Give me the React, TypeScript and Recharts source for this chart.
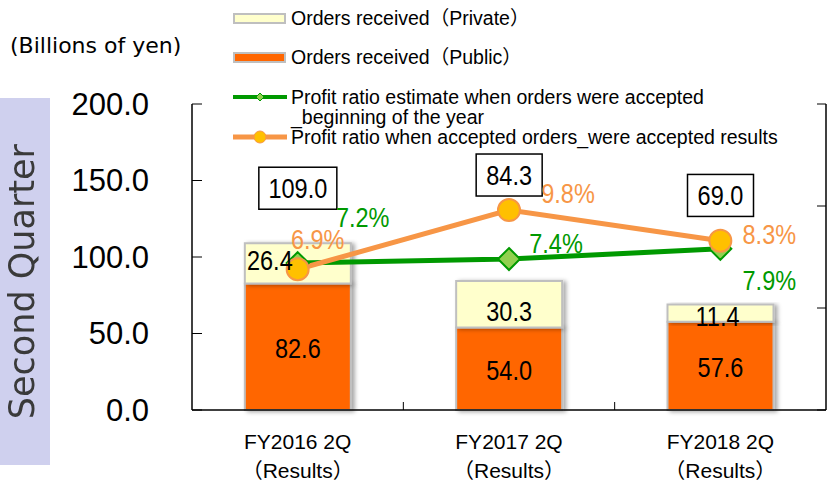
import {
  Bar,
  ComposedChart,
  LabelList,
  Line,
  XAxis,
  YAxis,
} from "recharts";

const categories = ["FY2016 2Q", "FY2017 2Q", "FY2018 2Q"];
const publicOrders = [82.6, 54.0, 57.6];
const privateOrders = [26.4, 30.3, 11.4];
const totalOrders = [109.0, 84.3, 69.0];
const estimateRatio = [7.2, 7.4, 7.9];
const resultRatio = [6.9, 9.8, 8.3];
const leftTicks = [0, 50, 100, 150, 200];
const rightTicks = [0, 5, 10, 15];

const chartData = categories.map((name, i) => ({
  name,
  publicOrders: publicOrders[i],
  privateOrders: privateOrders[i],
  estimateRatio: estimateRatio[i],
  resultRatio: resultRatio[i],
}));

// hand-placed label nudges, as in the original slide
const totalLift = [55, 106, 109];
const publicShift = [[0, 1], [0, 2], [0, 1]];
const privateShift = [[-28, -3], [0, 7], [-3, 3]];
const estimateShift = [[65, -46], [47, -16], [49, 31]];
const resultShift = [[20, -30], [59, -17], [49, -6]];

const GREEN = "#009900";
const ORANGE = "#f79646";
const AXIS_FONT = "'Liberation Sans', Arial, sans-serif";

// narrow-looking label text (the slide used a condensed face)
function NarrowText({ x, y, color, children, size = 28 }: any) {
  return (
    <text
      transform={`translate(${x},${y}) scale(0.84,1)`}
      x={0}
      y={0}
      textAnchor="middle"
      dominantBaseline="central"
      fontSize={size}
      fontFamily={AXIS_FONT}
      fill={color}
    >
      {children}
    </text>
  );
}

function CategoryTick(props: any) {
  const { x, y, payload, index } = props;
  // inner tick mark on the boundary between categories
  const half = Number(payload?.offset);
  const edge = index > 0 && Number.isFinite(half) && half > 0 ? payload.coordinate - half : null;
  return (
    <g>
      {edge != null && <line x1={edge} y1={y} x2={edge} y2={y - 8} stroke="#000" strokeWidth={1} />}
      <text x={x} y={y + 39} textAnchor="middle" fontSize={21} fontFamily={AXIS_FONT} fill="#000">
        {payload.value}
      </text>
      <text
        x={x}
        y={y + 68}
        textAnchor="middle"
        fontSize={21}
        fontFamily={`${AXIS_FONT}, 'Noto Sans CJK JP'`}
        fill="#000"
      >
        （Results）
      </text>
    </g>
  );
}

function LeftTick(props: any) {
  const { x, y, payload } = props;
  return (
    <g>
      <line x1={x} y1={y} x2={x + 10} y2={y} stroke="#000" strokeWidth={1} />
      <text
        x={x - 43}
        y={y}
        textAnchor="end"
        dominantBaseline="central"
        fontSize={31}
        fontFamily={AXIS_FONT}
        fill="#000"
      >
        {Number(payload.value).toFixed(1)}
      </text>
    </g>
  );
}

function RightTick(props: any) {
  const { x, y } = props;
  return <line x1={x} y1={y} x2={x - 9} y2={y} stroke="#000" strokeWidth={1} />;
}

function TotalBox(props: any) {
  const { x, y, width, index } = props;
  const text = totalOrders[index].toFixed(1);
  const w = text.length * 12 + 18;
  const h = 42;
  const cx = x + width / 2;
  const cy = y - totalLift[index];
  return (
    <g>
      <rect x={cx - w / 2} y={cy - h / 2} width={w} height={h} fill="#fff" stroke="#000" strokeWidth={1.5} />
      <NarrowText x={cx} y={cy} color="#000">
        {text}
      </NarrowText>
    </g>
  );
}

function makeBarLabel(shift: number[][]) {
  return (props: any) => {
    const { x, y, width, height, index, value } = props;
    const [dx, dy] = shift[index];
    return (
      <NarrowText x={x + width / 2 + dx} y={y + height / 2 + dy} color="#000">
        {Number(value).toFixed(1)}
      </NarrowText>
    );
  };
}

function makeRatioLabel(shift: number[][], color: string) {
  return (props: any) => {
    const { x, y, index, value } = props;
    const [dx, dy] = shift[index];
    return (
      <NarrowText x={x + dx} y={y + dy} color={color}>
        {`${Number(value).toFixed(1)}%`}
      </NarrowText>
    );
  };
}

function Diamond(props: any) {
  const { cx, cy } = props;
  if (cx == null || cy == null) return null;
  return (
    <path
      d={`M${cx},${cy - 11} L${cx + 11},${cy} L${cx},${cy + 11} L${cx - 11},${cy} Z`}
      fill="#92d050"
      stroke={GREEN}
      strokeWidth={2}
    />
  );
}

function LegendPanel() {
  const text = { fontFamily: `${AXIS_FONT}, 'Noto Sans CJK JP'`, fontSize: 19.5, color: "#000", lineHeight: "20px" };
  const row = { position: "absolute" as const, left: 233, display: "flex", alignItems: "flex-start" };
  return (
    <>
      <div style={{ ...row, top: 8 }}>
        <svg width={58} height={20}>
          <rect x={1} y={6} width={51} height={9} fill="#ffffcc" stroke="#bfbfbf" strokeWidth={2} />
        </svg>
        <span style={text}>Orders received（Private）</span>
      </div>
      <div style={{ ...row, top: 47 }}>
        <svg width={58} height={20}>
          <rect x={1} y={6} width={51} height={9} fill="#ff6600" stroke="#bfbfbf" strokeWidth={2} />
        </svg>
        <span style={text}>Orders received（Public）</span>
      </div>
      <div style={{ ...row, top: 87 }}>
        <svg width={58} height={20}>
          <line x1={0} y1={10} x2={54} y2={10} stroke={GREEN} strokeWidth={4} />
          <path d="M27,6 L31,10 L27,14 L23,10 Z" fill="#92d050" stroke={GREEN} strokeWidth={1} />
        </svg>
        <span style={text}>
          Profit ratio estimate when orders were accepted
          <br />
          _beginning of the year
        </span>
      </div>
      <div style={{ ...row, top: 127 }}>
        <svg width={58} height={20}>
          <line x1={0} y1={10} x2={54} y2={10} stroke={ORANGE} strokeWidth={5} />
          <circle cx={27} cy={10} r={6} fill="#ffc000" stroke={ORANGE} strokeWidth={1} />
        </svg>
        <span style={text}>Profit ratio when accepted orders_were accepted results</span>
      </div>
    </>
  );
}

export default function App() {
  return (
    <div style={{ position: "absolute", left: 0, top: 0, width: 827, height: 486, background: "#fff", overflow: "hidden" }}>
      <svg width={0} height={0} style={{ position: "absolute" }}>
        <defs>
          <filter id="barShadow" x="-10%" y="-10%" width="130%" height="130%">
            <feDropShadow dx={3} dy={1} stdDeviation={2} floodColor="#000" floodOpacity={0.35} />
          </filter>
        </defs>
      </svg>

      <div
        style={{
          position: "absolute",
          left: 0,
          top: 98,
          width: 50,
          height: 367,
          background: "#cfd0ee",
          display: "flex",
          alignItems: "center",
          justifyContent: "center",
        }}
      >
        <span
          style={{
            writingMode: "vertical-rl",
            transform: "rotate(180deg)",
            fontFamily: "'DejaVu Sans', sans-serif",
            fontSize: 35,
            color: "#3a3a3a",
            whiteSpace: "nowrap",
            marginLeft: -6,
          }}
        >
          Second Quarter
        </span>
      </div>

      <div
        style={{
          position: "absolute",
          left: 10,
          top: 33,
          fontFamily: "'DejaVu Sans', sans-serif",
          fontSize: 22,
          color: "#000",
          whiteSpace: "nowrap",
        }}
      >
        (Billions of yen)
      </div>

      <div style={{ position: "absolute", left: 0, top: 0 }}>
        <ComposedChart
          width={827}
          height={486}
          data={chartData}
          margin={{ top: 104, right: 0, bottom: 0, left: 0 }}
          barCategoryGap="25%"
        >
          <XAxis
            xAxisId="cat"
            dataKey="name"
            height={76}
            tickLine={false}
            tickSize={0}
            tickMargin={0}
            axisLine={{ stroke: "#000", strokeWidth: 1.5 }}
            tick={<CategoryTick />}
            interval={0}
          />
          <YAxis
            yAxisId="left"
            width={192}
            domain={[0, 200]}
            ticks={leftTicks}
            tickLine={false}
            tickSize={0}
            tickMargin={0}
            axisLine={{ stroke: "#000", strokeWidth: 1.5 }}
            tick={<LeftTick />}
            interval={0}
          />
          <YAxis
            yAxisId="right"
            orientation="right"
            width={1}
            domain={[0, 15]}
            ticks={rightTicks}
            tickLine={false}
            tickSize={0}
            tickMargin={0}
            tick={<RightTick />}
            axisLine={{ stroke: "#000", strokeWidth: 1.5 }}
            interval={0}
          />

          <Bar
            xAxisId="cat"
            yAxisId="left"
            dataKey="publicOrders"
            stackId="orders"
            fill="#ff6600"
            stroke="#bfbfbf"
            strokeWidth={2}
            filter="url(#barShadow)"
            isAnimationActive={false}
          >
            <LabelList dataKey="publicOrders" content={makeBarLabel(publicShift)} />
          </Bar>
          <Bar
            xAxisId="cat"
            yAxisId="left"
            dataKey="privateOrders"
            stackId="orders"
            fill="#ffffcc"
            stroke="#bfbfbf"
            strokeWidth={2}
            filter="url(#barShadow)"
            isAnimationActive={false}
          >
            <LabelList dataKey="privateOrders" content={makeBarLabel(privateShift)} />
            <LabelList dataKey="privateOrders" content={<TotalBox />} />
          </Bar>

          <Line
            xAxisId="cat"
            yAxisId="right"
            dataKey="estimateRatio"
            stroke={GREEN}
            strokeWidth={5}
            dot={<Diamond />}
            activeDot={false}
            isAnimationActive={false}
          >
            <LabelList dataKey="estimateRatio" content={makeRatioLabel(estimateShift, GREEN)} />
          </Line>
          <Line
            xAxisId="cat"
            yAxisId="right"
            dataKey="resultRatio"
            stroke={ORANGE}
            strokeWidth={5}
            dot={{ r: 11, fill: "#ffc000", stroke: ORANGE, strokeWidth: 2 }}
            activeDot={false}
            isAnimationActive={false}
          >
            <LabelList dataKey="resultRatio" content={makeRatioLabel(resultShift, ORANGE)} />
          </Line>
        </ComposedChart>
      </div>

      <LegendPanel />
    </div>
  );
}
